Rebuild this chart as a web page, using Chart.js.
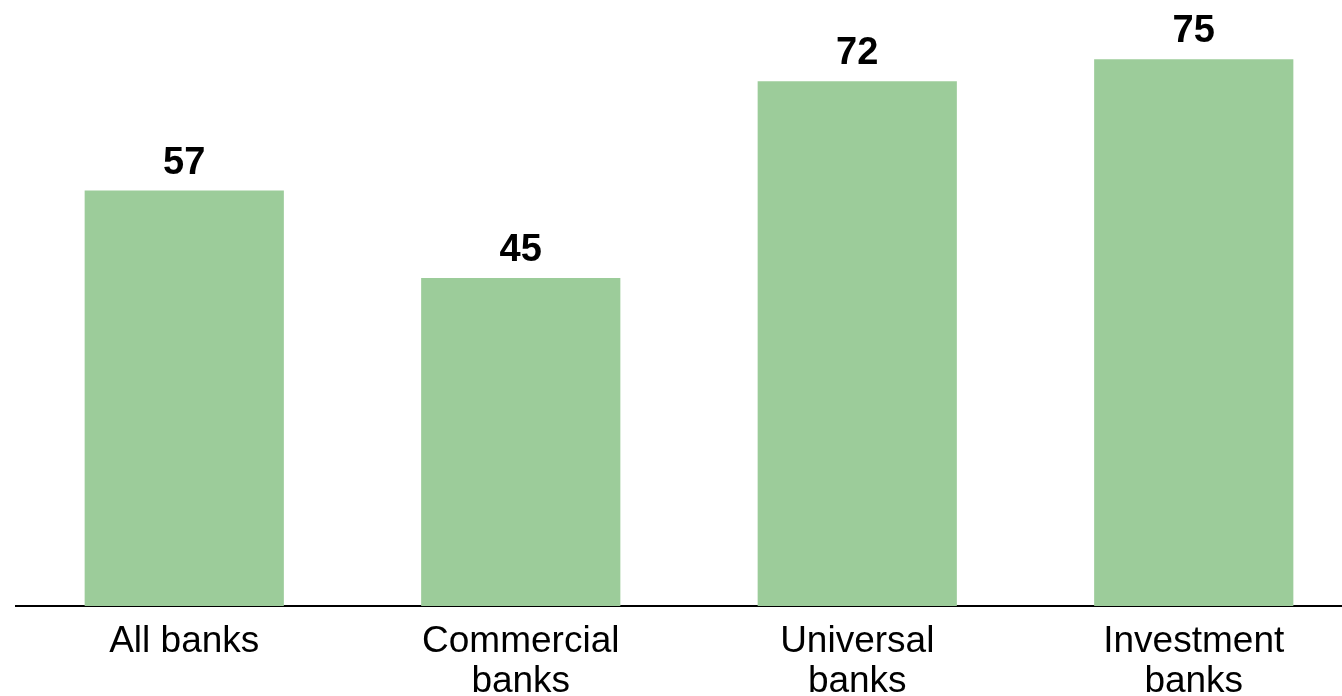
<!DOCTYPE html>
<html>
<head>
<meta charset="utf-8">
<script src="https://cdn.jsdelivr.net/npm/chart.js@4"></script>
<style>
  html, body { margin: 0; padding: 0; background: #fff; overflow: hidden; }
  #wrap { width: 1342px; height: 696px; overflow: hidden; }
</style>
</head>
<body>
<div id="wrap"><canvas id="bars" width="1362" height="696"></canvas></div>
<script>
var categories = [['All banks'], ['Commercial', 'banks'], ['Universal', 'banks'], ['Investment', 'banks']];
var shareValues = [57, 45, 72, 75];

// numbers above each bar
var valueLabels = {
    id: 'valueLabels',
    afterDatasetsDraw: function(chart) {
        var ctx = chart.ctx;
        var meta = chart.getDatasetMeta(0);
        ctx.save();
        ctx.font = 'bold 38px "Liberation Sans", Arial, sans-serif';
        ctx.fillStyle = '#000';
        ctx.textAlign = 'center';
        ctx.textBaseline = 'alphabetic';
        meta.data.forEach(function(bar, i) {
            ctx.fillText(String(shareValues[i]), bar.x, bar.y - 17);
        });
        ctx.restore();
    }
};

document.addEventListener('DOMContentLoaded', function() {
    var context = document.getElementById('bars').getContext('2d');
    new Chart(context, {
        type: 'bar',
        data: {
            labels: categories,
            datasets: [{
                data: shareValues,
                backgroundColor: 'rgb(156,204,154)',
                borderWidth: 0,
                barPercentage: 0.592,
                categoryPercentage: 1
            }]
        },
        options: {
            responsive: false,
            devicePixelRatio: 1,
            animation: false,
            layout: { padding: { top: 1, left: 16, right: 0, bottom: 0 } },
            plugins: { legend: { display: false }, tooltip: { enabled: false } },
            scales: {
                x: {
                    grid: { display: false },
                    border: { display: true, color: '#000', width: 2 },
                    ticks: {
                        color: '#000',
                        padding: 8,
                        maxRotation: 0,
                        font: { family: '"Liberation Sans", Arial, sans-serif', size: 37, lineHeight: 1.08 }
                    },
                    afterFit: function(scale) { scale.height = 90; }
                },
                y: {
                    display: false,
                    min: 0,
                    max: 83
                }
            }
        },
        plugins: [valueLabels]
    });
});
</script>
</body>
</html>
